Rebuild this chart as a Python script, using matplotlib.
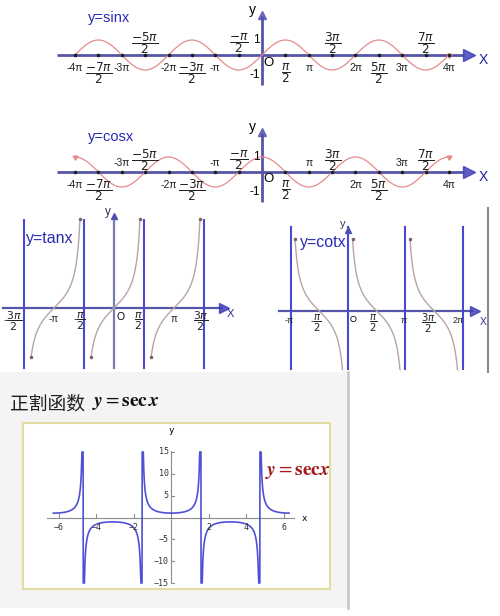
import numpy as np
import matplotlib
matplotlib.use("Agg")
import matplotlib.pyplot as plt
from matplotlib.lines import Line2D

plt.rcParams['font.family'] = ['Liberation Sans', 'DejaVu Sans']

PI = np.pi
W, H = 500, 616

# --- data: sin / cos panels (tick positions in units of pi/2) ---
half_pi_ticks = [-8, -7, -6, -5, -4, -3, -2, -1, 1, 2, 3, 4, 5, 6, 7, 8]
tick_text = {
    -8: '-4π', -7: r'$\dfrac{-7\pi}{2}$', -6: '-3π', -5: r'$\dfrac{-5\pi}{2}$',
    -4: '-2π', -3: r'$\dfrac{-3\pi}{2}$', -2: '-π', -1: r'$\dfrac{-\pi}{2}$',
    1: r'$\dfrac{\pi}{2}$', 2: 'π', 3: r'$\dfrac{3\pi}{2}$', 4: '2π',
    5: r'$\dfrac{5\pi}{2}$', 6: '3π', 7: r'$\dfrac{7\pi}{2}$', 8: '4π',
}
sin_above = [-5, -1, 3, 7]
cos_above = [-6, -5, -2, -1, 2, 3, 6, 7]
sin_range = (-4 * PI, 4 * PI)
cos_range = (-4 * PI, 4 * PI)

# --- data: tan / cot panels ---
tan_asymptotes = [-1.5 * PI, -0.5 * PI, 0.5 * PI, 1.5 * PI]
tan_centers = [-PI, 0, PI]
tan_span = (-1.2, 1.36)
tan_labels = [(-5.3, r'-$\dfrac{3\pi}{2}$'), (-PI, '-π'), (-1.8, r'-$\dfrac{\pi}{2}$'),
              (1.3, r'$\dfrac{\pi}{2}$'), (PI, 'π'), (4.55, r'$\dfrac{3\pi}{2}$')]
cot_asymptotes = [-PI, 0, PI, 2 * PI]
cot_starts = [-PI, 0, PI]
cot_span = (0.25, 2.85)
cot_labels = [(-3.22, '-π'), (-1.75, r'-$\dfrac{\pi}{2}$'), (1.37, r'$\dfrac{\pi}{2}$'),
              (3.06, 'π'), (4.37, r'$\dfrac{3\pi}{2}$'), (6.0, '2π')]

# --- data: sec panel ---
sec_range = (-6.3, 6.27)
sec_clip = 15
sec_xticks = [-6, -4, -2, 2, 4, 6]
sec_yticks = [-15, -10, -5, 5, 10, 15]

AXIS_BLUE = '#5656a8'
LINE_BLUE = '#4848d4'
TITLE_BLUE = '#2a2ab4'
CURVE_RED = '#e48c8c'
CURVE_TAN = '#b9a4a4'

fig = plt.figure(figsize=(W / 100, H / 100), dpi=100)


def panel(x0, y0, x1, y1, ox, oy, sx, sy, **kw):
    # axes placed by pixel box; origin (ox, oy) and scales in px per unit
    ax = fig.add_axes([x0 / W, 1 - y1 / H, (x1 - x0) / W, (y1 - y0) / H], **kw)
    ax.set_xlim((x0 - ox) / sx, (x1 - ox) / sx)
    ax.set_ylim(-(y1 - oy) / sy, (oy - y0) / sy)
    ax.axis('off')
    return ax


def wave_panel(ax, func, rng, above, name, title_y):
    ax.plot([-13.8, 13.6], [0, 0], color=AXIS_BLUE, lw=2, solid_capstyle='butt')
    ax.plot([13.9], [0], marker='>', ms=9, color='#4040b8', alpha=0.85)
    ax.text(14.85, -0.35, 'X', fontsize=10, color='#2020a0', ha='center', va='center')
    ax.plot([0, 0], [-2.0, 2.6], color=AXIS_BLUE, lw=2, solid_capstyle='butt')
    ax.plot([0], [2.65], marker='^', ms=6, color='#5050b0', alpha=0.8)
    ax.text(-0.65, 3.0, 'y', fontsize=10, ha='center', va='center')
    ax.text(-0.4, 1.0, '1', fontsize=8.5, ha='center', va='center')
    ax.text(-0.5, -1.35, '-1', fontsize=8.5, ha='center', va='center')
    ax.text(0.45, -0.5, 'O', fontsize=9.5, ha='center', va='center')
    xs = np.linspace(rng[0], rng[1], 800)
    ax.plot(xs, func(xs), color=CURVE_RED, lw=0.9)
    ax.plot([rng[1]], [func(rng[1])], marker=(3, 0, -60), ms=4, color=CURVE_RED)
    if func is np.cos:
        ax.plot([rng[0]], [func(rng[0])], marker=(3, 0, 60), ms=4, color=CURVE_RED)
    for k in half_pi_ticks:
        x = k * PI / 2
        ax.plot([x], [0], 'o', ms=1.6, color='#202020')
        s = tick_text[k]
        frac = s.startswith('$')
        if k in above:
            y = 0.8 if frac else 0.6
        else:
            y = -1.2 if frac else -0.85
        ax.text(x, y, s, fontsize=8.7 if frac else 7.5, ha='center', va='center',
                color='#222222')
    ax.text(-11.7, title_y, name, fontsize=10.5, color=TITLE_BLUE, ha='left', va='center')


ax_sin = panel(0, 0, 500, 110, 262, 55, 14.88, 15)
wave_panel(ax_sin, np.sin, sin_range, sin_above, 'y=sinx', 2.47)

ax_cos = panel(0, 110, 500, 210, 262, 172, 14.88, 15)
wave_panel(ax_cos, np.cos, cos_range, cos_above, 'y=cosx', 2.33)

# tan panel
ax_tan = panel(0, 210, 250, 370, 114, 308, 19.1, 19.1)
ax_tan.plot([-5.8, 5.65], [0, 0], color=AXIS_BLUE, lw=1.6)
ax_tan.plot([5.75], [0], marker='>', ms=7, color='#4040b8', alpha=0.85)
ax_tan.text(6.1, -0.3, 'X', fontsize=8, color='#303090', ha='center', va='center')
ax_tan.plot([0, 0], [-3.15, 4.75], color='#7a7ab4', lw=1.6)
ax_tan.plot([0], [4.8], marker='^', ms=4, color='#5050b0')
ax_tan.text(-0.3, 5.02, 'y', fontsize=8.5, ha='center', va='center', color='#303060')
for a in tan_asymptotes:
    ax_tan.plot([a, a], [-3.15, 4.6], color=LINE_BLUE, lw=1.5)
for c in tan_centers:
    xs = np.linspace(c + tan_span[0], c + tan_span[1], 300)
    ax_tan.plot(xs, np.tan(xs - c), color=CURVE_TAN, lw=1)
    ax_tan.plot([xs[0], xs[-1]], [np.tan(tan_span[0]), np.tan(tan_span[1])], 'o',
                ms=1.5, color='#806060')
for x, s in tan_labels:
    y = -0.7 if '$' in s else -0.55
    ax_tan.text(x, y, s, fontsize=7.8 if '$' in s else 7, ha='center', va='center',
                color='#222222')
ax_tan.text(0.32, -0.45, 'O', fontsize=7.5, ha='center', va='center')
ax_tan.text(-4.6, 3.66, 'y=tanx', fontsize=11.5, color=TITLE_BLUE, ha='left', va='center')

# cot panel
ax_cot = panel(250, 210, 500, 370, 348, 311, 18.3, 18.3)
ax_cot.plot([-3.77, 6.8], [0, 0], color=AXIS_BLUE, lw=1.6)
ax_cot.plot([6.95], [0], marker='>', ms=7, color='#4040b8', alpha=0.85)
ax_cot.text(7.4, -0.6, 'X', fontsize=7.5, color='#303090', ha='center', va='center')
for a in cot_asymptotes:
    ax_cot.plot([a, a], [-3.17, 4.6], color=LINE_BLUE, lw=1.5)
ax_cot.plot([0], [4.45], marker='^', ms=4, color='#5050b0')
ax_cot.text(-0.27, 4.75, 'y', fontsize=8, ha='center', va='center', color='#303060')
for a in cot_starts:
    xs = np.linspace(a + cot_span[0], a + cot_span[1], 300)
    ax_cot.plot(xs, 1 / np.tan(xs - a), color=CURVE_TAN, lw=1)
    ax_cot.plot([xs[0], xs[-1]], [1 / np.tan(cot_span[0]), 1 / np.tan(cot_span[1])], 'o',
                ms=1.5, color='#806060')
for x, s in cot_labels:
    y = -0.68 if '$' in s else -0.5
    ax_cot.text(x, y, s, fontsize=7.2 if '$' in s else 6.5, ha='center', va='center',
                color='#222222')
ax_cot.text(0.3, -0.45, 'O', fontsize=6.5, ha='center', va='center')
ax_cot.text(-2.62, 3.72, 'y=cotx', fontsize=11.5, color=TITLE_BLUE, ha='left', va='center')

fig.add_artist(Line2D([488 / W, 488 / W], [1 - 208 / H, 1 - 372 / H],
                      color='#8a8a8a', lw=1.5, transform=fig.transFigure))

# sec panel background
ax_bg = fig.add_axes([0, 1 - 608 / H, 348 / W, (608 - 372) / H])
ax_bg.set_facecolor('#f4f4f4')
ax_bg.set_xticks([])
ax_bg.set_yticks([])
for side in ['left', 'top', 'bottom']:
    ax_bg.spines[side].set_visible(False)
ax_bg.spines['right'].set_color('#c4c4c4')
ax_bg.spines['right'].set_linewidth(1.8)

fig.text(10 / W, 1 - 404 / H, '正割函数', fontsize=13.5, family=['Noto Sans CJK SC'],
         va='center', ha='left', color='#202020')
fig.text(92 / W, 1 - 404 / H, r'$\mathbfit{y}=\mathbf{sec}\,\mathbfit{x}$', fontsize=14,
         math_fontfamily='stix', va='center', ha='left', color='#111111')

ax_sec = fig.add_axes([23 / W, 1 - 589 / H, (330 - 23) / W, (589 - 423) / H])
ox, oy, sx, sy = 171.5, 517.5, 18.75, 4.37
ax_sec.set_xlim((23 - ox) / sx, (330 - ox) / sx)
ax_sec.set_ylim(-(589 - oy) / sy, (oy - 423) / sy)
ax_sec.set_facecolor('white')
ax_sec.set_xticks([])
ax_sec.set_yticks([])
for sp in ax_sec.spines.values():
    sp.set_color('#e4dca0')
    sp.set_linewidth(1.5)

ax_sec.plot([-6.64, 6.53], [0, 0], color='#8c8c8c', lw=0.8)
ax_sec.plot([0, 0], [-15, 15.3], color='#8c8c8c', lw=0.8)
for t in sec_xticks:
    ax_sec.plot([t, t], [0, 0.7], color='#8c8c8c', lw=0.8)
    ax_sec.text(t, -2.2, str(t).replace('-', '−'), fontsize=6, family='DejaVu Sans Mono',
                ha='center', va='center', color='#333333')
for t in sec_yticks:
    ax_sec.plot([0, 0.12], [t, t], color='#8c8c8c', lw=0.8)
    ax_sec.text(-0.15, t, str(t).replace('-', '−'), fontsize=6, family='DejaVu Sans Mono',
                ha='right', va='center', color='#333333')
ax_sec.text(0, 20.0, 'y', fontsize=6.5, family='DejaVu Sans Mono', ha='center', va='center')
ax_sec.text(7.07, -0.2, 'x', fontsize=6.5, family='DejaVu Sans Mono', ha='center', va='center')

xs = np.linspace(sec_range[0], sec_range[1], 6000)
ys = np.clip(1 / np.cos(xs), -sec_clip, sec_clip)
ax_sec.plot(xs, ys, color='#5050d6', lw=1.2)
ax_sec.text(5.0, 10.3, r'$\mathbfit{y}=\mathbf{sec}\mathbfit{x}$', fontsize=14,
            math_fontfamily='stix', color='#a01818', ha='left', va='center')

fig.savefig('out.png', dpi=100, facecolor='white')
